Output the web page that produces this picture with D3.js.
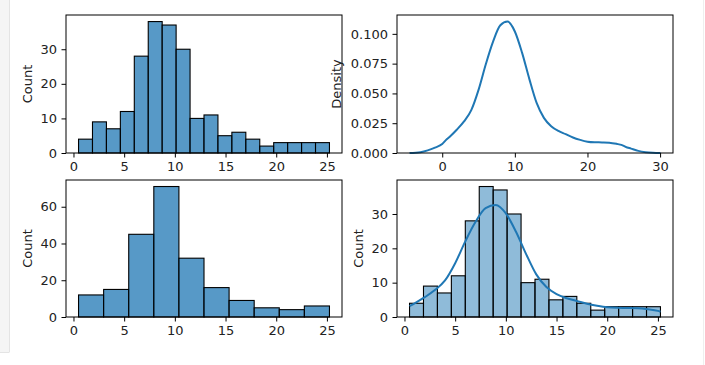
<!DOCTYPE html>
<html>
<head>
<meta charset="utf-8">
<script src="https://cdn.jsdelivr.net/npm/d3@7"></script>
<style>
  body { margin: 0; background: #fff; }
  svg { display: block; font-family: "DejaVu Sans", sans-serif; }
</style>
</head>
<body>
<svg id="canvas"></svg>
<script>
const svg = d3.select("#canvas")
  .attr("width", 705)
  .attr("height", 365);

// --- data ---
// histogram range shared by both histograms
const binRange = [0.5, 25.25];
// 18 auto bins (top-left and bottom-right)
const counts18 = [4, 9, 7, 12, 28, 38, 37, 30, 10, 11, 5, 6, 4, 2, 3, 3, 3, 3];
// 10 bins (bottom-left)
const counts10 = [12, 15, 45, 71, 32, 16, 9, 5, 4, 6];
// kde curve (density)
const kdeX = [-4.5, -3, -2, -1, 0, 0.5, 1, 2, 3, 4, 5, 6, 7, 8, 9, 10, 11, 12, 13, 14, 15, 16, 17, 18, 19, 20, 21, 22, 23, 24, 25, 25.25, 26, 27, 28, 29, 30.05];
const kdeY = [0.0000, 0.0007, 0.0022, 0.0045, 0.0075, 0.0108, 0.0135, 0.0195, 0.0265, 0.0360, 0.0530, 0.0745, 0.0935, 0.1072, 0.1103, 0.1020, 0.0840, 0.0620, 0.0420, 0.0295, 0.0225, 0.0185, 0.0158, 0.0130, 0.0110, 0.0095, 0.0090, 0.0089, 0.0087, 0.0077, 0.0060, 0.0052, 0.0037, 0.0018, 0.0007, 0.0002, 0.0000];

const histXTicks = [0, 5, 10, 15, 20, 25];
const kdeXTicks = [0, 10, 20, 30];
const densityTicks = [0, 0.025, 0.05, 0.075, 0.1];

const blue = "#1f77b4";
const fontPx = 13;

// jupyter output frame
svg.append("rect").attr("x", 0).attr("y", 0).attr("width", 9).attr("height", 352)
  .attr("fill", "#f5f5f5");
svg.append("line").attr("x1", 9.5).attr("x2", 9.5).attr("y1", 0).attr("y2", 352)
  .attr("stroke", "#e4e4e4");
svg.append("line").attr("x1", 0).attr("x2", 9.5).attr("y1", 352.5).attr("y2", 352.5)
  .attr("stroke", "#e4e4e4");
svg.append("line").attr("x1", 703.5).attr("x2", 703.5).attr("y1", 0).attr("y2", 365)
  .attr("stroke", "#efefef");

const panels = [
  { x0: 66, x1: 342, y0: 15, y1: 153 },
  { x0: 397, x1: 673, y0: 15, y1: 153 },
  { x0: 66, x1: 342, y0: 180, y1: 317 },
  { x0: 397, x1: 673, y0: 180, y1: 317 }
];

function pad(lo, hi) {
  const m = (hi - lo) * 0.05;
  return [lo - m, hi + m];
}

function binEdges(n) {
  const w = (binRange[1] - binRange[0]) / n;
  return d3.range(n).map(i => [binRange[0] + i * w, binRange[0] + (i + 1) * w]);
}

function drawAxes(p, x, y, xTicks, yTicks, yFmt, ylabel, labelOff) {
  const g = svg.append("g");
  const ax = g.append("g")
    .attr("transform", `translate(0,${p.y1})`)
    .call(d3.axisBottom(x).tickValues(xTicks).tickSize(4.5).tickPadding(4.5).tickFormat(d3.format("d")));
  const ay = g.append("g")
    .attr("transform", `translate(${p.x0},0)`)
    .call(d3.axisLeft(y).tickValues(yTicks).tickSize(4.5).tickPadding(4.5).tickFormat(yFmt));
  [ax, ay].forEach(a => {
    a.select(".domain").remove();
    a.selectAll("line").attr("stroke", "#000").attr("stroke-width", 1);
    a.selectAll("text").attr("fill", "#222").style("font-size", fontPx + "px")
      .style("font-family", "DejaVu Sans");
  });
  g.append("rect")
    .attr("x", p.x0).attr("y", p.y0)
    .attr("width", p.x1 - p.x0).attr("height", p.y1 - p.y0)
    .attr("fill", "none").attr("stroke", "#000").attr("stroke-width", 1);
  g.append("text")
    .attr("transform", `translate(${p.x0 - labelOff},${(p.y0 + p.y1) / 2}) rotate(-90)`)
    .attr("text-anchor", "middle")
    .attr("dy", "0.35em")
    .attr("fill", "#222")
    .style("font-size", fontPx + "px")
    .text(ylabel);
}

const kdeCurve = d3.curveMonotoneX;

function drawHist(p, counts, alpha, kde) {
  const x = d3.scaleLinear().domain(pad(binRange[0], binRange[1])).range([p.x0, p.x1]);
  const y = d3.scaleLinear().domain([0, d3.max(counts) * 1.05]).range([p.y1, p.y0]);
  const edges = binEdges(counts.length);
  svg.append("g").selectAll("rect")
    .data(counts)
    .join("rect")
    .attr("x", (d, i) => x(edges[i][0]))
    .attr("width", (d, i) => x(edges[i][1]) - x(edges[i][0]))
    .attr("y", d => y(d))
    .attr("height", d => y(0) - y(d))
    .attr("fill", blue)
    .attr("fill-opacity", alpha)
    .attr("stroke", "#000")
    .attr("stroke-width", 1.1);

  if (kde) {
    // seaborn scales the density by n * binwidth
    const scale = d3.sum(counts) * (binRange[1] - binRange[0]) / counts.length;
    const pts = kdeX.map((v, i) => [v, kdeY[i] * scale])
      .filter(d => d[0] >= binRange[0] && d[0] <= binRange[1]);
    svg.append("path")
      .datum(pts)
      .attr("fill", "none")
      .attr("stroke", blue)
      .attr("stroke-width", 2)
      .attr("d", d3.line().x(d => x(d[0])).y(d => y(d[1])).curve(kdeCurve));
  }
  const yTicks = d3.max(counts) > 50 ? [0, 20, 40, 60] : [0, 10, 20, 30];
  drawAxes(p, x, y, histXTicks, yTicks, d3.format("d"), "Count", 39);
}

// top-left
drawHist(panels[0], counts18, 0.75, false);

// top-right: kde
{
  const p = panels[1];
  const x = d3.scaleLinear().domain(pad(kdeX[0], kdeX[kdeX.length - 1])).range([p.x0, p.x1]);
  const y = d3.scaleLinear().domain([0, d3.max(kdeY) * 1.05]).range([p.y1, p.y0]);
  svg.append("path")
    .datum(kdeX.map((v, i) => [v, kdeY[i]]))
    .attr("fill", "none")
    .attr("stroke", blue)
    .attr("stroke-width", 2)
    .attr("d", d3.line().x(d => x(d[0])).y(d => y(d[1])).curve(kdeCurve));
  drawAxes(p, x, y, kdeXTicks, densityTicks, d3.format(".3f"), "Density", 61);
}

// bottom-left
drawHist(panels[2], counts10, 0.75, false);

// bottom-right: histogram + kde
drawHist(panels[3], counts18, 0.5, true);
</script>
</body>
</html>
